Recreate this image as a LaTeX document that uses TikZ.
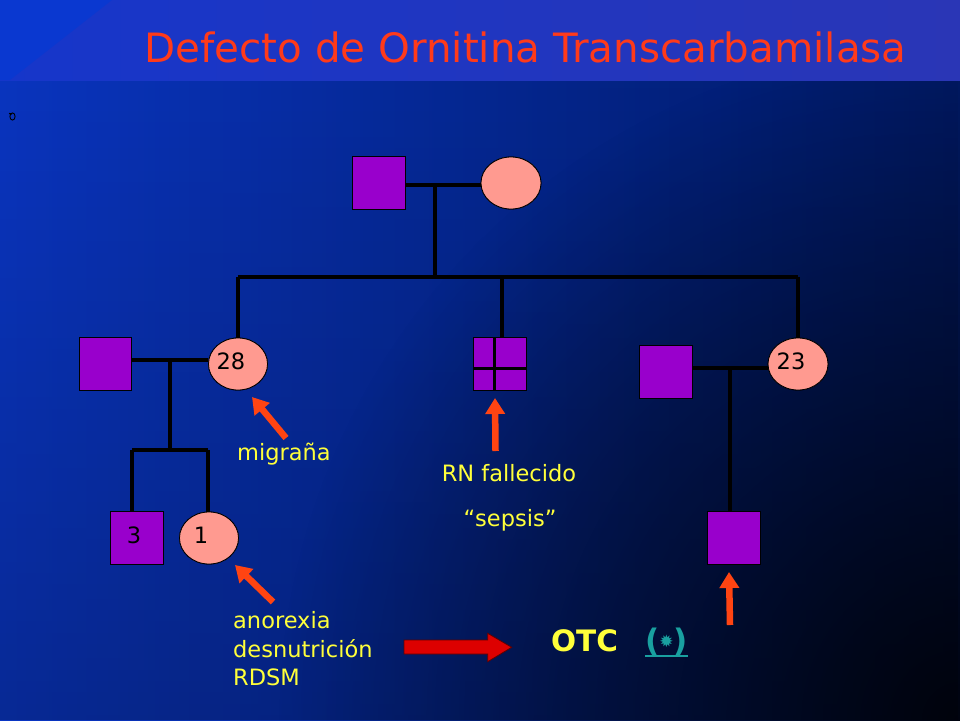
\documentclass[tikz,border=0pt]{standalone}
\usepackage{fontspec}
\setmainfont{DejaVu Sans}
\usetikzlibrary{shapes.geometric,arrows.meta,fadings}
\definecolor{bgL}{HTML}{0A36C4}
\definecolor{bgMid}{HTML}{05289A}
\definecolor{bgR}{HTML}{001A66}
\definecolor{bandL}{HTML}{1636CA}
\definecolor{bandR}{HTML}{2A36B6}
\definecolor{bandT}{HTML}{0A38D0}
\definecolor{titlec}{HTML}{FF3A1A}
\definecolor{malec}{HTML}{9900CC}
\definecolor{femc}{HTML}{FF9A90}
\definecolor{yel}{HTML}{FFFF3A}
\definecolor{arrc}{HTML}{FF4412}
\definecolor{blockred}{HTML}{DD0000}
\definecolor{blockdark}{HTML}{600000}
\definecolor{linkc}{HTML}{19A0A0}
\tikzfading[name=vdark, top color=transparent!100, bottom color=transparent!0]
\tikzfading[name=rdark, inner color=transparent!0, outer color=transparent!100]
\begin{document}
\begin{tikzpicture}[x=1pt,y=-1pt,
  male/.style={rectangle,fill=malec,draw=black,line width=0.8pt,minimum size=52.5pt,inner sep=0pt},
  female/.style={ellipse,fill=femc,draw=black,line width=0.8pt,minimum width=59pt,minimum height=52pt,inner sep=0pt},
  pedline/.style={draw=black,line width=4pt},
  numlab/.style={text=black,font=\fontsize{22.5}{22.5}\selectfont,inner sep=0pt},
  ylab/.style={text=yel,font=\fontsize{22.5}{29}\selectfont,inner sep=0pt},
  symarrow/.style={draw=arrc,line width=6.5pt,-{Triangle[width=19pt,length=16pt]}}
]
\useasboundingbox (0,0) rectangle (960,720);
% background
\shade[left color=bgL, middle color=bgMid, right color=bgR] (0,0) rectangle (960,720);
\fill[black, opacity=0.24, path fading=vdark] (0,0) rectangle (960,720);
\begin{scope}
\clip (0,0) rectangle (960,720);
\fill[black, opacity=0.85, path fading=rdark] (960,720) circle (680);
\end{scope}
% title band
\shade[left color=bandL, right color=bandR] (0,0) rectangle (960,80);
\fill[bandT] (0,0) -- (112,0) -- (10,80) -- (0,80) -- cycle;
\node[text=titlec,font=\fontsize{40.4}{42}\selectfont,anchor=base,inner sep=0pt] (title) at (525.5,62) {Defecto de Ornitina Transcarbamilasa};
% small bullet glyph
\draw[black,line width=0.9pt] (12.5,116.5) ellipse (2.6 and 3.6);
\draw[black,line width=1.2pt] (9,113.5) -- (12,114);

% nodes
\node[male] (gpm) at (379,183) {};
\node[female,minimum width=60pt] (gpf) at (511,183) {};
\node[female] (c28) at (238,364) {};
\node[male] (hl) at (105.5,364) {};
\node[male] (rn) at (500,364) {};
\node[female,minimum width=60pt] (c23) at (798,364) {};
\node[male] (hr) at (666,372) {};
\node[male] (sq3) at (137,538) {};
\node[female] (c1) at (209,538) {};
\node[male] (son) at (734,538) {};

% RN dividers
\coordinate (rnv) at (494.5,368.5);
\draw[black,line width=3pt] (rn.north -| rnv) -- (rn.south -| rnv);
\draw[black,line width=3pt] (rn.west |- rnv) -- (rn.east |- rnv);

% pedigree lines
\coordinate (m1) at (435,185);
\coordinate (s1) at (435,277);
\coordinate (s1L) at (238,277);
\coordinate (s1R) at (798,277);
\coordinate (s1M) at (502,277);
\draw[pedline] (gpm.east |- m1) -- (gpf.west |- m1);
\draw[pedline] (m1) -- (s1);
\draw[pedline] (s1L) -- (s1R);
\draw[pedline] (s1L) -- (c28.north);
\draw[pedline] (s1M) -- (s1M |- rn.north);
\draw[pedline] (s1R) -- (c23.north);

\coordinate (m2) at (169.5,360);
\coordinate (s2) at (169.5,450);
\coordinate (s2L) at (132,450);
\coordinate (s2R) at (208,450);
\draw[pedline] (hl.east |- m2) -- (c28.west |- m2);
\draw[pedline] (m2) -- (s2);
\draw[pedline] (s2L) -- (s2R);
\draw[pedline] (s2L) -- (s2L |- sq3.north);
\draw[pedline] (s2R) -- (s2R |- c1.north);

\coordinate (m3) at (730,368);
\draw[pedline] (hr.east |- m3) -- (c23.west |- m3);
\draw[pedline] (m3) -- (m3 |- son.north);

% redraw nodes on top of lines, with their numbers
\node[male] at (gpm) {};
\node[female,minimum width=60pt] at (gpf) {};
\node[female] at (c28) [label={[numlab,xshift=-7pt,yshift=2.5pt]center:28}] {};
\node[male] at (hl) {};
\node[female,minimum width=60pt] at (c23) [label={[numlab,xshift=-7pt,yshift=3pt]center:23}] {};
\node[male] at (hr) {};
\node[male] at (sq3) [label={[numlab,xshift=-3pt,yshift=3pt]center:3}] {};
\node[female] at (c1) [label={[numlab,xshift=-8pt,yshift=3pt]center:1}] {};
\node[male] at (son) {};

% labels
\node[ylab,anchor=base] (mig) at (284,460) {migraña};
\node[ylab,anchor=base] (rnf) at (509,481.5) {RN fallecido};
\node[ylab,anchor=base] (sep) at (510,526.5) {“sepsis”};
\node[ylab,anchor=base west] (ano) at (233,628) {anorexia};
\node[ylab,anchor=base west] (des) at (233,657) {desnutrición};
\node[ylab,anchor=base west] (rds) at (233,685.5) {RDSM};
\node[text=yel,font=\bfseries\fontsize{29.5}{30}\selectfont,anchor=base,inner sep=0pt] (otc) at (584.5,651.5) {OTC};
\node[text=linkc,font=\bfseries\fontsize{31}{31}\selectfont,inner sep=0pt] (lnk) at (666.5,642) {(\raisebox{4pt}{\fontsize{17}{17}\selectfont ✹})};
\draw[linkc,line width=1.8pt] (lnk.south west) -- (lnk.south east);

% symptom arrows
\coordinate (a1t) at (286,438); \coordinate (a1h) at (252,397);
\coordinate (a2t) at (495.5,451); \coordinate (a2h) at (495,398);
\coordinate (a3t) at (273,602); \coordinate (a3h) at (235,565);
\coordinate (a4t) at (730,625); \coordinate (a4h) at (729,572);
\draw[symarrow] (a1t) -- (a1h);
\draw[symarrow] (a2t) -- (a2h);
\draw[symarrow] (a3t) -- (a3h);
\draw[symarrow] (a4t) -- (a4h);

% block arrow
\draw[fill=blockred,draw=blockdark,line width=0.8pt]
  (404,640) -- (487.7,640) -- (487.7,633.3) -- (511.7,647.3) -- (487.7,661.7) -- (487.7,654) -- (404,654) -- cycle;
\end{tikzpicture}
\end{document}
